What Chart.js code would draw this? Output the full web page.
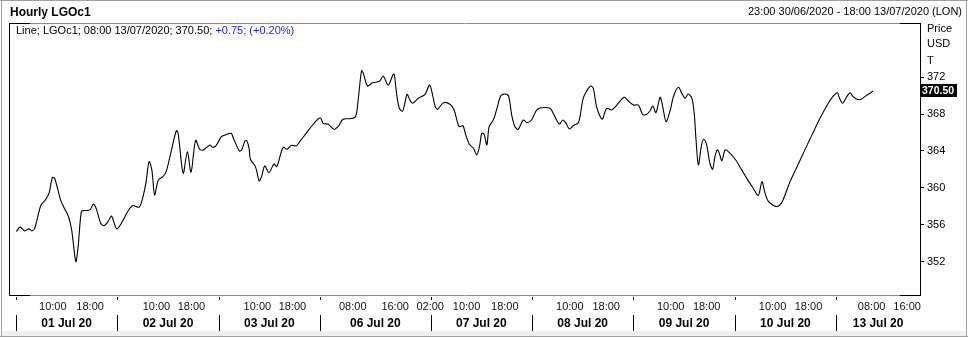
<!DOCTYPE html>
<html>
<head>
<meta charset="utf-8">
<script src="https://cdn.jsdelivr.net/npm/chart.js@4.4.1/dist/chart.umd.min.js"></script>
<style>
  html, body { margin: 0; padding: 0; background: #fff; }
  #wrap { width: 968px; height: 337px; }
</style>
</head>
<body>
<div id="wrap"><canvas id="lgoChart" width="968" height="337"></canvas></div>
<script>
// hourly gasoil prices, x = trading-hour index since 01 Jul 20
const hours = [0.1,0.9,1.9,2.8,3.5,4.1,5.4,6.4,7.2,7.9,
  8.4,9.7,10.4,11.4,12.1,13.0,13.5,14.2,14.8,16.1,
  16.8,17.4,18.4,19.1,20.0,20.7,21.1,21.9,23.1,24.4,
  25.4,26.7,27.4,28.2,28.9,29.5,30.1,30.9,31.9,32.6,
  33.6,34.8,35.2,36.3,37.2,38.0,39.0,39.9,40.7,42.1,
  42.7,43.4,44.6,45.4,46.7,47.2,48.5,49.0,49.7,50.1,
  50.6,50.9,51.9,52.2,52.8,53.3,54.0,54.9,56.0,56.6,
  56.9,58.0,58.8,59.8,60.8,61.6,63.1,64.4,66.0,66.7,
  67.8,69.0,70.0,71.0,72.5,73.7,74.2,75.0,75.4,76.3,
  77.4,78.9,79.7,80.8,81.8,82.1,82.6,83.2,83.9,84.4,
  84.9,85.5,86.1,87.3,88.8,89.7,90.1,91.0,91.5,92.8,
  94.2,95.1,96.0,96.4,97.0,97.7,98.4,99.3,100.0,100.6,
  101.1,101.6,102.2,102.7,103.6,104.3,105.2,106.1,106.9,107.6,
  108.3,109.0,110.1,110.9,111.9,113.0,114.1,115.9,116.6,117.9,
  118.7,119.4,120.1,121.0,122.1,123.1,123.9,124.7,125.3,126.0,
  126.8,127.3,128.2,129.3,130.4,132.0,132.9,134.0,135.1,136.0,
  136.9,137.6,138.2,138.9,139.8,140.3,141.1,142.0,142.8,143.8,
  144.5,145.2,145.9,146.7,147.2,147.6,148.1,148.8,149.3,149.9,
  150.6,151.2,151.7,152.2,152.6,153.2,153.9,154.6,156.1,157.5,
  158.6,159.9,161.1,161.9,162.5,163.3,165.1,166.2,168.0,170.2,
  172.3,174.5,176.3,177.4,178.3,178.6,179.4,180.3,181.0,181.7,
  182.5,183.4,184.7,186.1];

const prices = [355.28,355.75,355.35,355.57,355.35,355.64,358.09,358.70,359.43,361.11,
  361.05,358.70,357.91,356.90,355.46,352.03,353.65,357.44,357.55,357.62,
  358.24,357.81,356.18,355.92,356.36,356.97,356.54,355.57,356.36,357.55,
  358.09,357.91,358.70,360.51,362.84,361.95,359.24,360.86,361.22,361.76,
  363.75,366.19,365.91,361.59,363.92,361.70,365.14,364.18,364.11,364.65,
  364.40,364.54,365.55,365.73,365.91,365.37,364.00,364.11,365.08,365.11,
  364.29,363.10,362.38,361.95,360.76,361.22,362.38,361.65,362.59,362.30,
  362.67,364.40,364.18,364.62,364.54,365.01,365.98,366.81,367.60,366.99,
  366.89,366.35,366.70,367.43,367.49,367.71,369.16,372.68,372.40,371.03,
  371.38,371.54,372.11,371.14,372.22,372.32,370.24,368.62,368.32,369.16,
  370.13,369.51,369.16,369.70,370.13,371.14,370.78,368.79,368.51,369.22,
  369.05,368.43,366.81,366.63,366.74,365.62,364.72,364.29,363.57,364.46,
  365.91,365.84,364.65,366.63,367.35,368.43,369.95,370.16,369.95,367.89,
  366.63,366.35,367.35,367.06,367.35,368.43,368.68,368.62,368.08,366.92,
  367.35,366.99,366.38,366.76,367.08,369.70,370.52,371.03,370.78,368.79,
  367.71,367.46,368.62,368.43,368.97,369.81,369.41,368.97,368.97,367.97,
  367.97,368.32,368.86,368.14,369.81,368.97,367.17,368.43,370.05,370.89,
  370.24,369.70,370.16,369.70,368.08,365.19,362.49,364.65,365.26,364.65,
  362.67,362.02,363.38,364.11,363.82,362.95,364.11,363.92,363.10,361.95,
  361.03,360.05,359.19,360.68,359.57,358.54,357.98,358.41,360.68,363.03,
  365.26,367.54,369.16,369.95,370.30,369.87,369.16,369.87,370.30,369.87,
  369.59,369.59,370.05,370.50];

// axis labels
const hourTickPos = [8.0, 16.1, 30.5, 38.1, 52.4, 60.0, 73.1, 82.3, 89.9, 97.8, 106.1,
  120.2, 128.1, 142.1, 149.9, 164.2, 172.0, 185.7, 193.4];
const hourTickText = ['10:00','18:00','10:00','18:00','10:00','18:00','08:00','16:00','02:00',
  '10:00','18:00','10:00','18:00','10:00','18:00','10:00','18:00','08:00','16:00'];
const dayStarts = [0, 22, 44, 66, 90, 112, 134, 156, 178];
const dayNames = ['01 Jul 20','02 Jul 20','03 Jul 20','06 Jul 20','07 Jul 20',
  '08 Jul 20','09 Jul 20','10 Jul 20','13 Jul 20'];
const priceTicks = [352, 356, 360, 364, 368, 372];

const xMin = -1.5, xMax = 196.2;
const lastPrice = prices[prices.length - 1];

// day label sits in the middle of each day span
const dayCenters = dayStarts.map((s, i) => (s + (i < dayStarts.length - 1 ? dayStarts[i + 1] : xMax)) / 2);

const FONT = '"Liberation Sans", Arial, sans-serif';

const extras = {
  id: 'extras',
  beforeDraw(chart) {
    const c = chart.ctx;
    c.save();
    c.fillStyle = '#fff';
    c.fillRect(0, 0, chart.width, chart.height);
    // bottom strip + outer border
    c.fillStyle = '#f0f0f0';
    c.fillRect(2, 331, chart.width - 4, 5);
    c.strokeStyle = '#a0a0a0';
    c.lineWidth = 1;
    c.beginPath();
    c.moveTo(0, 0.5); c.lineTo(chart.width, 0.5);
    c.moveTo(1.5, 0); c.lineTo(1.5, 336);
    c.moveTo(0, 336.5); c.lineTo(chart.width, 336.5);
    c.moveTo(chart.width - 1.5, 0); c.lineTo(chart.width - 1.5, 336);
    c.stroke();
    c.restore();
  },
  afterDraw(chart) {
    const c = chart.ctx;
    const a = chart.chartArea;
    const xs = chart.scales.x;
    const ys = chart.scales.y;
    c.save();

    // frame
    c.lineWidth = 1;
    c.strokeStyle = '#8a889a';
    c.beginPath();
    c.moveTo(a.left, a.top + 0.5); c.lineTo(a.right, a.top + 0.5);
    c.moveTo(a.left, a.bottom - 0.5); c.lineTo(a.right, a.bottom - 0.5);
    c.stroke();
    c.strokeStyle = '#000';
    c.beginPath();
    c.moveTo(a.left + 0.5, a.top); c.lineTo(a.left + 0.5, a.bottom);
    c.moveTo(a.right + 0.5, a.top); c.lineTo(a.right + 0.5, a.bottom);
    c.moveTo(a.left, a.top + 0.5); c.lineTo(a.left + 21, a.top + 0.5);
    c.moveTo(a.right - 20, a.top + 0.5); c.lineTo(a.right + 1, a.top + 0.5);
    c.moveTo(a.left, a.bottom - 0.5); c.lineTo(a.left + 21, a.bottom - 0.5);
    c.moveTo(a.right - 20, a.bottom - 0.5); c.lineTo(a.right + 1, a.bottom - 0.5);
    c.stroke();

    // day boundaries: small tick below plot and separator in the date row
    c.beginPath();
    dayStarts.forEach(d => {
      const px = Math.round(xs.getPixelForValue(d)) + 0.5;
      c.moveTo(px, a.bottom + 1); c.lineTo(px, a.bottom + 4);
      c.moveTo(px, a.bottom + 19); c.lineTo(px, a.bottom + 35);
    });
    c.stroke();

    // titles
    c.fillStyle = '#000';
    c.textBaseline = 'middle';
    c.font = 'bold 12px ' + FONT;
    c.textAlign = 'left';
    c.fillText('Hourly LGOc1', 10, 13);
    c.font = '11px ' + FONT;
    c.textAlign = 'right';
    c.fillText('23:00 30/06/2020 - 18:00 13/07/2020 (LON)', 962, 12);

    // legend line
    c.textAlign = 'left';
    const part1 = 'Line; LGOc1; 08:00 13/07/2020; ' + lastPrice.toFixed(2) + '; ';
    c.fillText(part1, 16, 31);
    c.fillStyle = '#1c1ce0';
    c.fillText('+0.75; (+0.20%)', 16 + c.measureText(part1).width, 31);

    // price axis caption
    c.fillStyle = '#000';
    c.fillText('Price', 927, 29);
    c.fillText('USD', 927, 44);
    c.fillText('T', 927, 61);

    // last price badge
    const py = ys.getPixelForValue(lastPrice);
    c.font = 'bold 10.5px ' + FONT;
    const label = lastPrice.toFixed(2);
    const w = Math.ceil(c.measureText(label).width) + 3;
    c.fillStyle = '#000';
    c.fillRect(a.right + 1, Math.round(py) - 7, Math.max(w, 34), 13);
    c.fillStyle = '#fff';
    c.fillText(label, a.right + 2, Math.round(py));
    c.restore();
  }
};

new Chart(document.getElementById('lgoChart'), {
  type: 'line',
  data: {
    datasets: [{
      data: hours.map((h, i) => ({ x: h, y: prices[i] })),
      borderColor: '#000',
      borderWidth: 1.1,
      pointRadius: 0,
      tension: 0.3,
      fill: false,
      xAxisID: 'x',
      yAxisID: 'y'
    }]
  },
  options: {
    responsive: false,
    animation: false,
    events: [],
    layout: { padding: { left: 9, top: 23, right: 0, bottom: 0 } },
    plugins: { legend: { display: false }, tooltip: { enabled: false } },
    scales: {
      x: {
        type: 'linear',
        position: 'bottom',
        weight: 0,
        min: xMin,
        max: xMax,
        grid: { display: false, drawTicks: false },
        border: { display: false },
        afterBuildTicks: s => { s.ticks = hourTickPos.map(v => ({ value: v })); },
        afterFit: s => { s.height = 18; },
        ticks: {
          autoSkip: false,
          maxRotation: 0,
          padding: 4,
          color: '#10101c',
          font: { family: FONT, size: 11 },
          callback: (v, i) => hourTickText[i]
        }
      },
      xd: {
        type: 'linear',
        position: 'bottom',
        weight: 1,
        min: xMin,
        max: xMax,
        grid: { display: false, drawTicks: false },
        border: { display: false },
        afterBuildTicks: s => { s.ticks = dayCenters.map(v => ({ value: v })); },
        afterFit: s => { s.height = 23; },
        ticks: {
          autoSkip: false,
          maxRotation: 0,
          padding: 2,
          color: '#000',
          font: { family: FONT, size: 12, weight: 'bold' },
          callback: (v, i) => dayNames[i]
        }
      },
      y: {
        type: 'linear',
        position: 'right',
        min: 348.3,
        max: 377.85,
        grid: { drawOnChartArea: false, drawTicks: true, tickLength: 4, color: '#000' },
        border: { display: false },
        afterBuildTicks: s => { s.ticks = priceTicks.map(v => ({ value: v })); },
        afterFit: s => { s.width = 48; },
        ticks: {
          padding: 3,
          color: '#000',
          font: { family: FONT, size: 11 },
          callback: v => String(v)
        }
      }
    }
  },
  plugins: [extras]
});
</script>
</body>
</html>
